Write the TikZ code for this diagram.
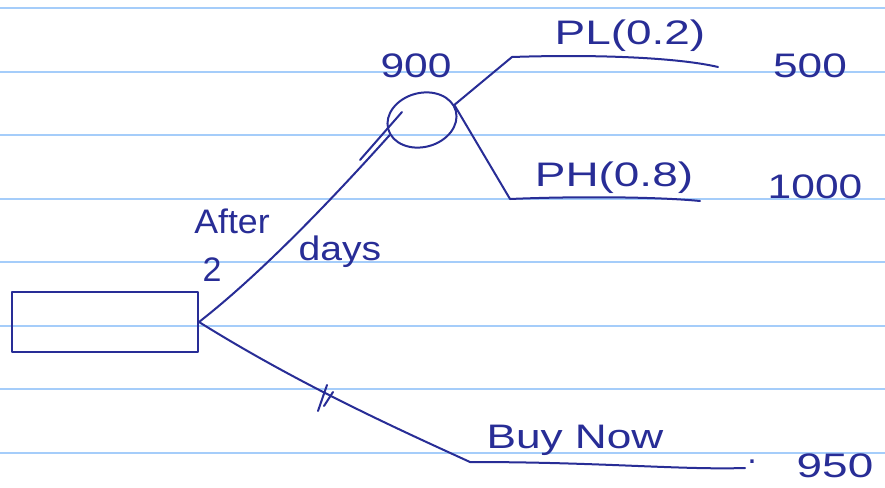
\documentclass[tikz,border=0pt]{standalone}
\usepackage{fontspec}
\setmainfont{Liberation Sans}
\usetikzlibrary{shapes.geometric}
\definecolor{pen}{RGB}{40,45,150}
\definecolor{rule}{RGB}{165,205,250}
\tikzset{
  ink/.style={draw=pen, line width=2pt, line cap=round, line join=round},
  hand/.style={text=pen, inner sep=0pt, font=\fontsize{34}{36}\selectfont},
  paper/.style={draw=rule, line width=1.8pt}
}
\begin{document}
\begin{tikzpicture}[x=1pt,y=-1pt]
\useasboundingbox (0,0) rectangle (885,487);
\fill[white] (0,0) rectangle (885,487);
\foreach \yy in {8,72,135,199,262,326,389,453}
  \draw[paper] (0,\yy) -- (885,\yy);

% decision box
\node[ink, rectangle, minimum width=186pt, minimum height=60pt] (box) at (105,322) {};
% chance node
\node[ink, ellipse, rotate=15, minimum width=70pt, minimum height=54pt] (chance) at (422,120) {};

\coordinate (plc) at (512,57);
\coordinate (ple) at (718,67);
\coordinate (phc) at (510,199);
\coordinate (phe) at (700,201);
\coordinate (bnc) at (470,462);
\coordinate (bne) at (745,468);

% upper branch
\draw[ink] (box.east) .. controls (240,290) and (300,235) .. (chance.190);
\draw[ink] (360,160) -- (402,112);
\draw[ink] (chance.10) -- (plc) .. controls (600,54) and (680,58) .. (ple);
\draw[ink] (chance.10) -- (phc) .. controls (580,196) and (660,197) .. (phe);
% lower branch
\draw[ink] (box.east) .. controls (300,385) and (400,430) .. (bnc) .. controls (600,462) and (680,470) .. (bne);
\draw[ink] (318,411) -- (327,385);
\draw[ink] (324,406) -- (333,392);

% labels
\node[hand] (v900) at (416,66) {\scalebox{1.25}[1]{900}};
\node[hand] (pl) at (630,36) {\scalebox{1.35}[1]{PL(0.2)}};
\node[hand] (v500) at (810,66) {\scalebox{1.3}[1]{500}};
\node[hand] (ph) at (614,178) {\scalebox{1.35}[1]{PH(0.8)}};
\node[hand] (v1000) at (815,187) {\scalebox{1.25}[1]{1000}};
\node[hand] (after) at (232,221) {\scalebox{1.05}[1]{After}};
\node[hand] (two) at (212,270) {2};
\node[hand] (days) at (340,252) {\scalebox{1.15}[1]{days}};
\node[hand] (buy) at (575,440) {\scalebox{1.3}[1]{Buy Now}};
\node[hand] (dot) at (752,462) {.};
\node[hand] (v950) at (835,466) {\scalebox{1.35}[1]{950}};
\end{tikzpicture}
\end{document}
